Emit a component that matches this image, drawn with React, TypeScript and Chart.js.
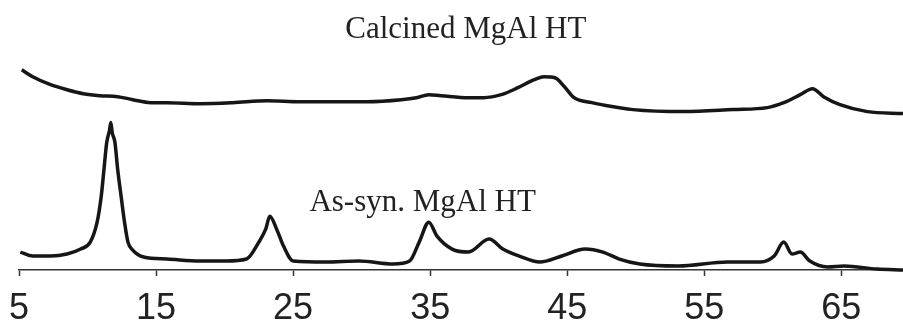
import React, { useEffect, useRef } from 'react';
import { Chart, registerables } from 'chart.js';

Chart.register(...registerables);

// 2θ (degrees) and intensity (a.u., offset stack as in the figure)
const calcinedTheta = [
  5.2, 6.0, 7.3, 8.5, 9.7, 10.9, 12.2, 13.3, 14.6, 15.8, 18.2, 20.6, 23.1, 25.5, 28.0, 30.4,
  32.9, 34.0, 34.9, 35.8, 37.8, 38.9, 40.2, 41.4, 42.6, 43.3, 44.1, 44.8, 45.5, 46.8, 47.5,
  49.8, 53.5, 57.1, 59.6, 60.8, 62.0, 62.9, 63.7, 64.9, 66.9, 69.5,
];
const calcinedIntensity = [
  201, 194, 186, 181, 177, 175, 174, 171, 168, 168, 167, 168, 170, 169, 169, 169,
  171, 173, 176, 175, 173, 173, 176, 183, 191, 194, 193, 184, 173, 168, 166,
  161, 159, 161, 163, 168, 176, 182, 174, 166, 159, 157,
];

const asSynTheta = [
  5.1, 6.0, 7.3, 8.5, 9.5, 10.2, 10.7, 11.0, 11.2, 11.4, 11.6, 11.7, 11.8, 12.0, 12.2, 12.45,
  12.7, 12.95, 13.3, 14.1, 15.8, 18.2, 20.1, 21.6, 22.5, 23.0, 23.3, 23.8, 24.3, 25.0, 27.4,
  29.8, 32.3, 33.5, 34.2, 34.9, 35.5, 36.6, 37.8, 39.3, 40.3, 41.5, 43.0, 44.6, 46.3, 47.6,
  48.8, 50.3, 53.1, 56.7, 59.1, 60.1, 60.8, 61.4, 62.0, 62.7, 64.0, 65.2, 67.6, 69.5,
];
const asSynIntensity = [
  18, 14, 14, 16, 21, 28, 48, 74, 101, 128, 140, 148, 138, 128, 101, 74,
  48, 28, 20, 13, 11, 9, 9, 11, 28, 41, 54, 41, 24, 9, 8,
  9, 6, 9, 28, 48, 34, 21, 18, 31, 21, 14, 8, 14, 21, 18,
  11, 6, 4, 8, 8, 14, 28, 16, 18, 9, 3, 4, 1, 0,
];

const xTicks = [5, 15, 25, 35, 45, 55, 65];
const seriesNames = ['Calcined MgAl HT', 'As-syn. MgAl HT'];

const seriesLabelPlugin = {
  id: 'seriesLabels',
  afterDatasetsDraw(chart: any, _args: any, opts: any) {
    const { ctx } = chart;
    const xs = chart.scales.x;
    const ys = chart.scales.y;
    ctx.save();
    ctx.font = opts.font;
    ctx.fillStyle = opts.color;
    ctx.textAlign = 'center';
    ctx.textBaseline = 'alphabetic';
    for (const it of opts.items) {
      ctx.fillText(it.text, xs.getPixelForValue(it.x), ys.getPixelForValue(it.y));
    }
    ctx.restore();
  },
};

export default function App() {
  const ref = useRef<HTMLCanvasElement | null>(null);

  useEffect(() => {
    if (!ref.current) return;
    const toPts = (xs: number[], ys: number[]) => xs.map((x, i) => ({ x, y: ys[i] }));
    const line = {
      borderColor: '#161616',
      borderWidth: 3.5,
      pointRadius: 0,
      cubicInterpolationMode: 'monotone' as const,
      clip: false as any,
    };
    const chart = new Chart(ref.current, {
      type: 'line',
      data: {
        datasets: [
          { label: seriesNames[0], data: toPts(calcinedTheta, calcinedIntensity), ...line },
          { label: seriesNames[1], data: toPts(asSynTheta, asSynIntensity), ...line },
        ],
      },
      options: {
        animation: false,
        responsive: false,
        layout: { padding: { top: 10, left: 19, right: 0, bottom: 0 } },
        scales: {
          x: {
            type: 'linear',
            min: 5,
            max: 69.5,
            afterBuildTicks: (s: any) => {
              s.ticks = xTicks.map((v) => ({ value: v }));
            },
            afterFit: (s: any) => {
              s.height = 62;
              s.paddingLeft = 0;
              s.paddingRight = 0;
            },
            ticks: {
              autoSkip: false,
              maxRotation: 0,
              padding: 13,
              color: '#222',
              font: {
                family: "'Liberation Sans Narrow', 'Liberation Sans', Arial, sans-serif",
                size: 36,
                lineHeight: 1.1,
              },
            },
            grid: {
              display: true,
              drawOnChartArea: false,
              drawTicks: true,
              tickLength: 6,
              tickWidth: 1.5,
              color: '#333',
            },
            border: { display: true, color: '#333', width: 1.5 },
          },
          y: { display: false, min: 0, max: 261 },
        },
        plugins: {
          legend: { display: false },
          tooltip: { enabled: false },
          seriesLabels: {
            font: "31px 'Liberation Serif', 'Times New Roman', serif",
            color: '#222',
            items: [
              { text: seriesNames[0], x: 37.6, y: 233 },
              { text: seriesNames[1], x: 34.45, y: 59 },
            ],
          },
        } as any,
      },
      plugins: [seriesLabelPlugin],
    });
    return () => chart.destroy();
  }, []);

  return (
    <div style={{ position: 'absolute', left: 0, top: 0, width: 903, height: 332, background: '#fff' }}>
      <canvas ref={ref} width={903} height={332} style={{ display: 'block' }} />
    </div>
  );
}
